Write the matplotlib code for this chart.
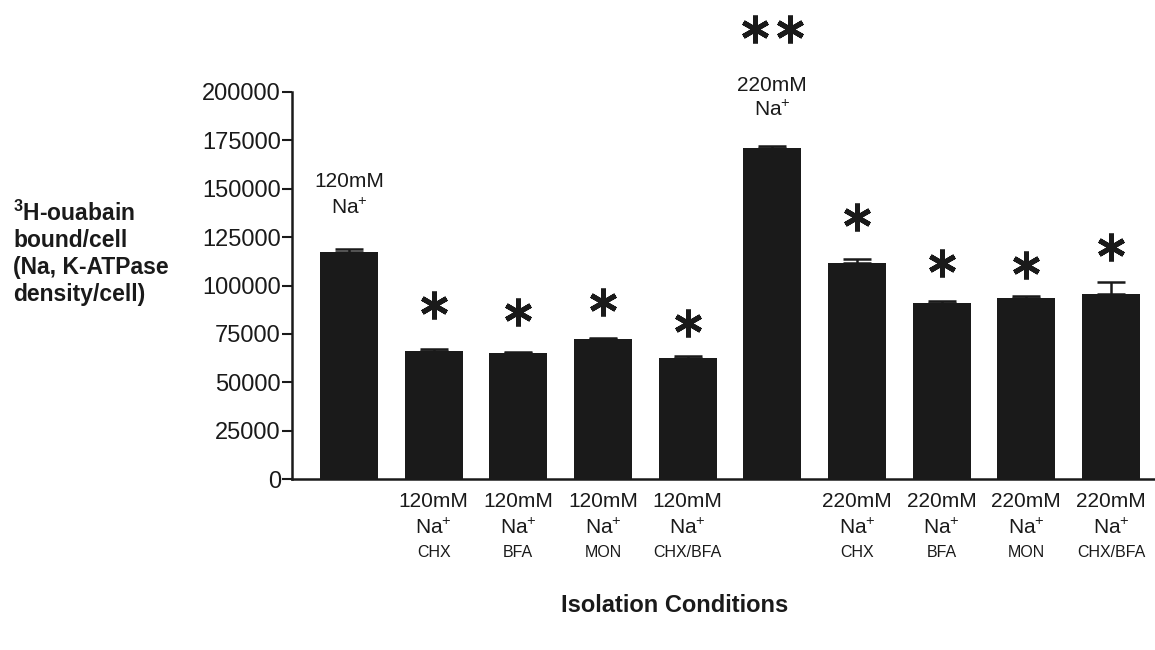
import matplotlib.pyplot as plt

plt.rcParams["font.family"] = ["Liberation Sans", "DejaVu Sans"]
plt.rcParams["mathtext.fontset"] = "custom"
plt.rcParams["mathtext.rm"] = "Liberation Sans"
plt.rcParams["mathtext.bf"] = "Liberation Sans:bold"
plt.rcParams["mathtext.default"] = "regular"

# ---- data ----
conc = ["120mM", "120mM", "120mM", "120mM", "120mM",
        "220mM", "220mM", "220mM", "220mM", "220mM"]
drug = ["", "CHX", "BFA", "MON", "CHX/BFA",
        "", "CHX", "BFA", "MON", "CHX/BFA"]
ouabain = [117300, 66200, 65000, 72200, 62700,
           171200, 111800, 91100, 93700, 95400]
sem = [1600, 1000, 500, 700, 900,
       800, 1700, 900, 800, 6200]
# significance marks: number of asterisks and the height they sit at
stars = [0, 1, 1, 1, 1, 2, 1, 1, 1, 1]
star_y = [0, 89900, 86300, 91500, 80600, 232600, 135400, 111600, 110600, 119900]

yticks = [0, 25000, 50000, 75000, 100000, 125000, 150000, 175000, 200000]

ink = "#1a1a1a"
x = list(range(len(ouabain)))

fig = plt.figure(figsize=(11.55, 6.5), dpi=100)
ax = fig.add_axes([292 / 1155, 1 - 479 / 650, (1155 - 292) / 1155, 387 / 650])

ax.bar(x, ouabain, width=0.685, color=ink, zorder=2)
ax.errorbar(x, ouabain, yerr=[[0] * len(sem), sem], fmt="none",
            ecolor=ink, elinewidth=1.8, capsize=10, capthick=1.8, zorder=3)

for i in x:
    if stars[i] == 1:
        ax.plot(i, star_y[i], marker=(6, 2, 0), ms=20, mew=3.6,
                color=ink, clip_on=False, zorder=4)
    elif stars[i] == 2:
        for dx in (-0.21, 0.21):
            ax.plot(i + dx, star_y[i], marker=(6, 2, 0), ms=20, mew=3.6,
                    color=ink, clip_on=False, zorder=4)

# labels above the untreated bars
ax.text(0, 153500, "120mM", ha="center", va="center", fontsize=15, color=ink)
ax.text(0, 140000, "Na$^{+}$", ha="center", va="center", fontsize=15, color=ink)
ax.text(5, 203600, "220mM", ha="center", va="center", fontsize=15, color=ink, clip_on=False)
ax.text(5, 190700, "Na$^{+}$", ha="center", va="center", fontsize=15, color=ink, clip_on=False)

# category labels under the treated bars
for i in x:
    if drug[i] == "":
        continue
    ax.annotate(conc[i], (i, 0), xycoords=("data", "axes fraction"),
                xytext=(0, -16), textcoords="offset points",
                ha="center", va="center", fontsize=15, color=ink)
    ax.annotate("Na$^{+}$", (i, 0), xycoords=("data", "axes fraction"),
                xytext=(0, -35), textcoords="offset points",
                ha="center", va="center", fontsize=15, color=ink)
    ax.annotate(drug[i], (i, 0), xycoords=("data", "axes fraction"),
                xytext=(0, -53), textcoords="offset points",
                ha="center", va="center", fontsize=11.5, color=ink)

ax.set_xlim(-0.673, 9.52)
ax.set_ylim(0, 200000)
ax.set_yticks(yticks)
ax.set_yticklabels([str(v) for v in yticks])
ax.set_xticks([])
ax.tick_params(axis="y", direction="out", length=7, width=1.5, pad=1,
               labelsize=17, colors=ink)
for s in ["top", "right"]:
    ax.spines[s].set_visible(False)
for s in ["left", "bottom"]:
    ax.spines[s].set_linewidth(1.8)
    ax.spines[s].set_color(ink)

fig.text(13 / 1155, 1 - 253 / 650,
         "$^{\\mathbf{3}}$H-ouabain\nbound/cell\n(Na, K-ATPase\ndensity/cell)",
         ha="left", va="center", fontsize=16.5, fontweight="bold",
         linespacing=1.2, color=ink)
fig.text(675 / 1155, 1 - 605 / 650, "Isolation Conditions", ha="center",
         va="center", fontsize=17, fontweight="bold", color=ink)

fig.savefig("out.png", dpi=100, facecolor="white")
